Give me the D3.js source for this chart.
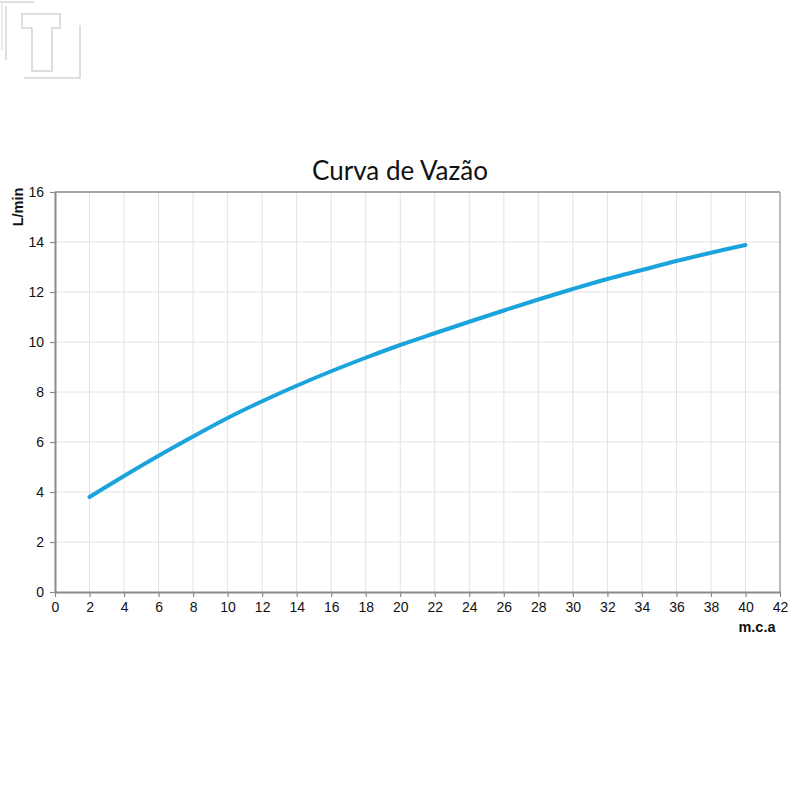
<!DOCTYPE html>
<html><head><meta charset="utf-8">
<script src="https://cdn.jsdelivr.net/npm/d3@7"></script>
<style>body{margin:0;background:#fff}svg{display:block}</style>
</head><body>
<svg id="c" width="800" height="800"></svg>
<script>
const pressure = [2,4,6,8,10,12,14,16,18,20,22,24,26,28,30,32,34,36,38,40];
const flow = [3.80,4.64,5.45,6.22,6.96,7.63,8.25,8.83,9.37,9.88,10.35,10.81,11.26,11.70,12.12,12.52,12.88,13.24,13.57,13.88];
const xTicks = [0,2,4,6,8,10,12,14,16,18,20,22,24,26,28,30,32,34,36,38,40,42];
const yTicks = [0,2,4,6,8,10,12,14,16];
const title = "Curva de Vazão";
const xLabel = "m.c.a";
const yLabel = "L/min";

const svg = d3.select("#c");
const m = {l:55, r:780, t:192, b:592};
const x = d3.scaleLinear().domain([0,42]).range([m.l, m.r]);
const y = d3.scaleLinear().domain([0,16]).range([m.b, m.t]);

// logo
const lg = svg.append("g").attr("fill","none").attr("stroke","#d4d4d4").attr("stroke-width",1.5);
lg.append("path").attr("d","M22,14 H60 V28 H52 V71 H32 V28 H22 Z");
lg.append("path").attr("d","M0,2 H34");
lg.append("path").attr("d","M6,6 V60");
lg.append("path").attr("d","M24,78 H80 V25");
lg.append("path").attr("d","M2,2 V50").attr("stroke","#e6e6e6");

// grid
svg.append("g").selectAll("line").data(xTicks.slice(1,-1)).join("line")
  .attr("x1",d=>x(d)).attr("x2",d=>x(d)).attr("y1",m.t).attr("y2",m.b)
  .attr("stroke","#e2e2e2").attr("stroke-width",1);
svg.append("g").selectAll("line").data(yTicks.slice(1,-1)).join("line")
  .attr("y1",d=>y(d)).attr("y2",d=>y(d)).attr("x1",m.l).attr("x2",m.r)
  .attr("stroke","#e2e2e2").attr("stroke-width",1);

// frame top/right
svg.append("line").attr("x1",m.l).attr("x2",m.r).attr("y1",m.t).attr("y2",m.t).attr("stroke","#a6a6a6").attr("stroke-width",2);
svg.append("line").attr("x1",m.r).attr("x2",m.r).attr("y1",m.t).attr("y2",m.b).attr("stroke","#a6a6a6").attr("stroke-width",1.5);

// axes
const xa = svg.append("g").attr("transform",`translate(0,${m.b})`)
  .call(d3.axisBottom(x).tickValues(xTicks).tickSize(5).tickPadding(5).tickSizeOuter(0));
const ya = svg.append("g").attr("transform",`translate(${m.l},0)`)
  .call(d3.axisLeft(y).tickValues(yTicks).tickSize(5).tickPadding(6).tickSizeOuter(0));
[xa,ya].forEach(a=>{
  a.select(".domain").attr("stroke","#8a8a8a").attr("stroke-width",2);
  a.selectAll(".tick line").attr("stroke","#8a8a8a").attr("stroke-width",1.2);
  a.selectAll(".tick text").attr("fill","#111").attr("font-family","Liberation Sans, Arial, sans-serif").attr("font-size",14);
});

// curve
svg.append("path").datum(pressure.map((p,i)=>[p,flow[i]]))
  .attr("fill","none").attr("stroke","#1ba4db").attr("stroke-width",4).attr("stroke-linecap","round")
  .attr("d", d3.line().x(d=>x(d[0])).y(d=>y(d[1])).curve(d3.curveCatmullRom));

// title
svg.append("text").attr("x",400).attr("y",180).attr("text-anchor","middle")
  .attr("font-family","Lato, Noto Sans, sans-serif").attr("font-size",26).attr("fill","#111").text(title);
svg.append("text").attr("x",757).attr("y",632).attr("text-anchor","middle")
  .attr("font-family","Liberation Sans, Arial, sans-serif").attr("font-weight","bold").attr("font-size",14.5).attr("fill","#111").text(xLabel);
svg.append("text").attr("transform","translate(23,207) rotate(-90)").attr("text-anchor","middle")
  .attr("font-family","Liberation Sans, Arial, sans-serif").attr("font-weight","bold").attr("font-size",14.5).attr("fill","#111").text(yLabel);
</script>
</body></html>
